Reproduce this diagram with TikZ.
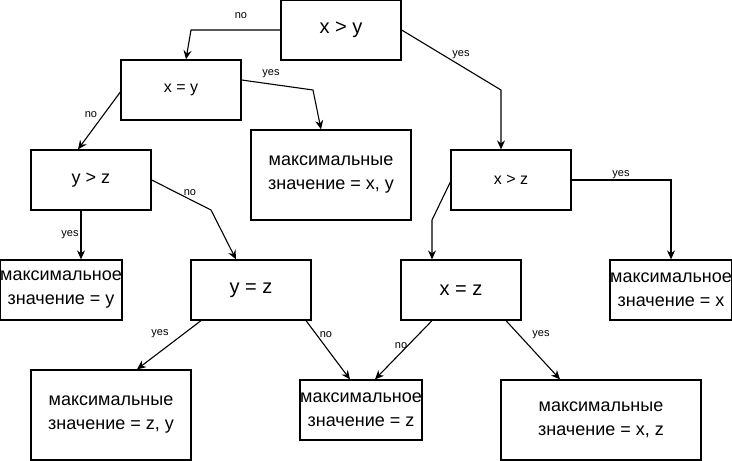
\documentclass[tikz,border=0pt]{standalone}
\usepackage{fontspec}
\setmainfont{Liberation Sans}
\usetikzlibrary{arrows.meta}

\begin{document}
\begin{tikzpicture}[x=1pt, y=-1pt, line width=1.1pt, >={Stealth[length=9pt,width=8pt,inset=3pt]},
	box/.style={draw, line width=1.3pt, inner sep=0pt, align=center, minimum width=120pt, minimum height=60pt, font=\fontsize{18}{24}\selectfont},
	lbl/.style={font=\fontsize{11}{13}\selectfont, inner sep=1pt}]
	\useasboundingbox (0,0) rectangle (732,461);
	% decision boxes
	\node[box, font=\fontsize{20}{24}\selectfont] (xgy) at (341,30) {x > y};
	\node[box, font=\fontsize{16}{20}\selectfont] (xeqy) at (181,90) {x = y};
	\node[box, font=\fontsize{18}{20}\selectfont] (ygz) at (91,180) {y > z};
	\node[box, font=\fontsize{20}{24}\selectfont] (yeqz) at (251,290) {y = z};
	\node[box, font=\fontsize{16}{20}\selectfont] (xgz) at (511,180) {x > z};
	\node[box, font=\fontsize{20}{24}\selectfont] (xeqz) at (461,290) {x = z};
	% results
	\node[box, minimum width=160pt, minimum height=90pt] (maxxy) at (331,175) {максимальные\\значение = x, y};
	\node[box] (maxy) at (61,290) {максимальное\\значение = y};
	\node[box] (maxx) at (671,290) {максимальное\\значение = x};
	\node[box, minimum width=160pt, minimum height=90pt] (maxzy) at (111,415) {максимальные\\значение = z, y};
	\node[box] (maxz) at (361,410) {максимальное\\значение = z};
	\node[box, minimum width=200pt, minimum height=80pt] (maxxz) at (601,420) {максимальные\\значение = x, z};
	% connectors
	\draw[->] (xgy.west) -- (191,30) -- ([xshift=5pt]xeqy.north);
	\draw[->] (xgy.east) -- (501,90) -- ([xshift=-10pt]xgz.north);
	\draw[->] ([yshift=10pt]xeqy.east) -- (313,90) -- ([xshift=-10pt]maxxy.north);
	\draw[->] ([yshift=-2pt]xeqy.west) -- ([xshift=-13pt]ygz.north);
	\draw[->] (ygz.east) -- (211,210) -- ([xshift=-15pt]yeqz.north);
	\draw[->] ([xshift=-10pt]ygz.south) -- ([xshift=20pt]maxy.north);
	\draw[->] ([xshift=-50pt]yeqz.south) -- ([xshift=26pt]maxzy.north);
	\draw[->] ([xshift=55pt]yeqz.south) -- ([xshift=-11pt]maxz.north);
	\draw[->] ([xshift=-29pt]xeqz.south) -- ([xshift=14pt]maxz.north);
	\draw[->] ([xshift=45pt]xeqz.south) -- ([xshift=-41pt]maxxz.north);
	\draw[->] ([yshift=-2pt]xgz.west) -- (432,220) -- ([xshift=-29pt]xeqz.north);
	\draw[->] (xgz.east) -| (maxx.north);
	% labels
	\node[lbl] (l1) at (241,16) {no};
	\node[lbl] (l2) at (461,55) {yes};
	\node[lbl] (l3) at (271,74) {yes};
	\node[lbl] (l4) at (91,115) {no};
	\node[lbl] (l5) at (190,193) {no};
	\node[lbl] (l6) at (70,235) {yes};
	\node[lbl] (l7) at (160,334) {yes};
	\node[lbl] (l8) at (326,335) {no};
	\node[lbl] (l9) at (401,346) {no};
	\node[lbl] (l10) at (541,335) {yes};
	\node[lbl] (l11) at (621,175) {yes};
\end{tikzpicture}
\end{document}
